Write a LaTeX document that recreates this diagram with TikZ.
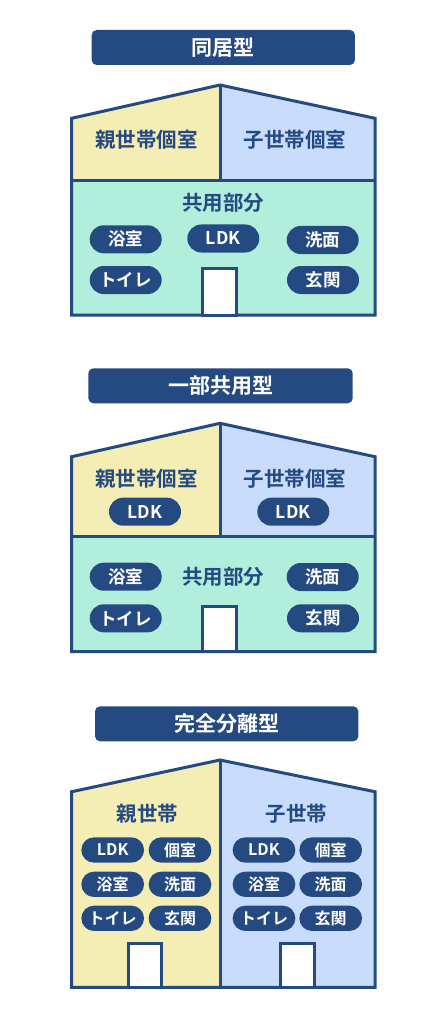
\documentclass[tikz,border=0pt]{standalone}
\usepackage{fontspec}
\setmainfont{Noto Sans CJK JP}[BoldFont={Noto Sans CJK JP Bold}]
\definecolor{navy}{HTML}{254A82}
\definecolor{oya}{HTML}{F4EEB4}
\definecolor{ko}{HTML}{C9DCFB}
\definecolor{kyo}{HTML}{B1EEDB}
\begin{document}
\begin{tikzpicture}[x=1pt,y=-1pt,
  titlebox/.style={fill=navy,text=white,rounded corners=5pt,inner sep=0pt,
    font=\bfseries\fontsize{21}{21}\selectfont,minimum height=35pt},
  pill/.style={fill=navy,text=white,rounded corners=14pt,inner sep=0pt,
    minimum width=72pt,minimum height=28pt,font=\bfseries\fontsize{17.5}{17.5}\selectfont},
  spill/.style={fill=navy,text=white,rounded corners=12.6pt,inner sep=0pt,
    minimum width=62.7pt,minimum height=25.3pt,font=\bfseries\fontsize{16}{16}\selectfont},
  lab/.style={text=navy,inner sep=0pt,font=\bfseries\fontsize{20.5}{21}\selectfont},
  wall/.style={draw=navy,line width=3pt},
  door/.style={draw=navy,fill=white,line width=3pt}]
\useasboundingbox (0,0) rectangle (447,1024);
\fill[white] (0,0) rectangle (447,1024);

% ===== Section 1 =====
\node[titlebox,minimum width=263.3pt] (t1) at (223.3,47.5) {同居型};
\fill[oya] (71.7,181) -- (71.7,118.3) -- (220,85) -- (220,181) -- cycle;
\fill[ko] (220,181) -- (220,85) -- (375,118.3) -- (375,181) -- cycle;
\fill[kyo] (71.7,181) rectangle (375,315);
\draw[wall] (71.7,315) -- (71.7,118.3) -- (220,85) -- (375,118.3) -- (375,315) -- cycle;
\draw[wall] (71.7,181) -- (375,181);
\draw[wall] (220,85) -- (220,181);
\draw[door] (202.7,315) rectangle (236.7,268.3);
\node[lab] (a1) at (146.7,140) {親世帯個室};
\node[lab] (a2) at (295,140) {子世帯個室};
\node[lab] (a3) at (223,203) {共用部分};
\node[pill] (a4) at (125.7,239.3) {浴室};
\node[pill] (a5) at (223.3,238.5) {LDK};
\node[pill] (a6) at (322.7,240) {洗面};
\node[pill] (a7) at (125.7,280) {トイレ};
\node[pill] (a8) at (323,280) {玄関};

% ===== Section 2 =====
\node[titlebox,minimum width=264.4pt] (t2) at (220.5,385.8) {一部共用型};
\fill[oya] (71.7,536.7) -- (71.7,456.7) -- (220,423.3) -- (220,536.7) -- cycle;
\fill[ko] (220,536.7) -- (220,423.3) -- (375,456.7) -- (375,536.7) -- cycle;
\fill[kyo] (71.7,536.7) rectangle (375,651.7);
\draw[wall] (71.7,651.7) -- (71.7,456.7) -- (220,423.3) -- (375,456.7) -- (375,651.7) -- cycle;
\draw[wall] (71.7,536.7) -- (375,536.7);
\draw[wall] (220,423.3) -- (220,536.7);
\draw[door] (202.7,651.7) rectangle (236.7,606.7);
\node[lab] (b1) at (146.7,478.3) {親世帯個室};
\node[lab] (b2) at (295,478.3) {子世帯個室};
\node[pill] (b3) at (145,511.7) {LDK};
\node[pill] (b4) at (293.3,511.7) {LDK};
\node[lab] (b5) at (223,577) {共用部分};
\node[pill] (b6) at (125.7,576.7) {浴室};
\node[pill] (b7) at (322.7,577) {洗面};
\node[pill] (b8) at (125.7,618.3) {トイレ};
\node[pill] (b9) at (323,618.3) {玄関};

% ===== Section 3 =====
\node[titlebox,minimum width=263.3pt] (t3) at (226.7,723.8) {完全分離型};
\fill[oya] (71.7,987.3) -- (71.7,791.7) -- (220,760) -- (220,987.3) -- cycle;
\fill[ko] (220,987.3) -- (220,760) -- (375,791.7) -- (375,987.3) -- cycle;
\draw[wall] (71.7,987.3) -- (71.7,791.7) -- (220,760) -- (375,791.7) -- (375,987.3) -- cycle;
\draw[wall] (220,760) -- (220,987.3);
\draw[door] (128.3,987.3) rectangle (161.7,943.3);
\draw[door] (280,987.3) rectangle (314,943.3);
\node[lab] (c1) at (147.3,813.3) {親世帯};
\node[lab] (c2) at (296.7,813.3) {子世帯};
\node[spill] (c3) at (112.7,850) {LDK};
\node[spill] (c4) at (180,850) {個室};
\node[spill] (c5) at (112.7,884.3) {浴室};
\node[spill] (c6) at (180,884.3) {洗面};
\node[spill] (c7) at (112.7,918.3) {トイレ};
\node[spill] (c8) at (180,918.3) {玄関};
\node[spill] (c9) at (264,850) {LDK};
\node[spill] (c10) at (330.7,850) {個室};
\node[spill] (c11) at (264,884.3) {浴室};
\node[spill] (c12) at (330.7,884.3) {洗面};
\node[spill] (c13) at (264,918.3) {トイレ};
\node[spill] (c14) at (330.7,918.3) {玄関};
\end{tikzpicture}
\end{document}
